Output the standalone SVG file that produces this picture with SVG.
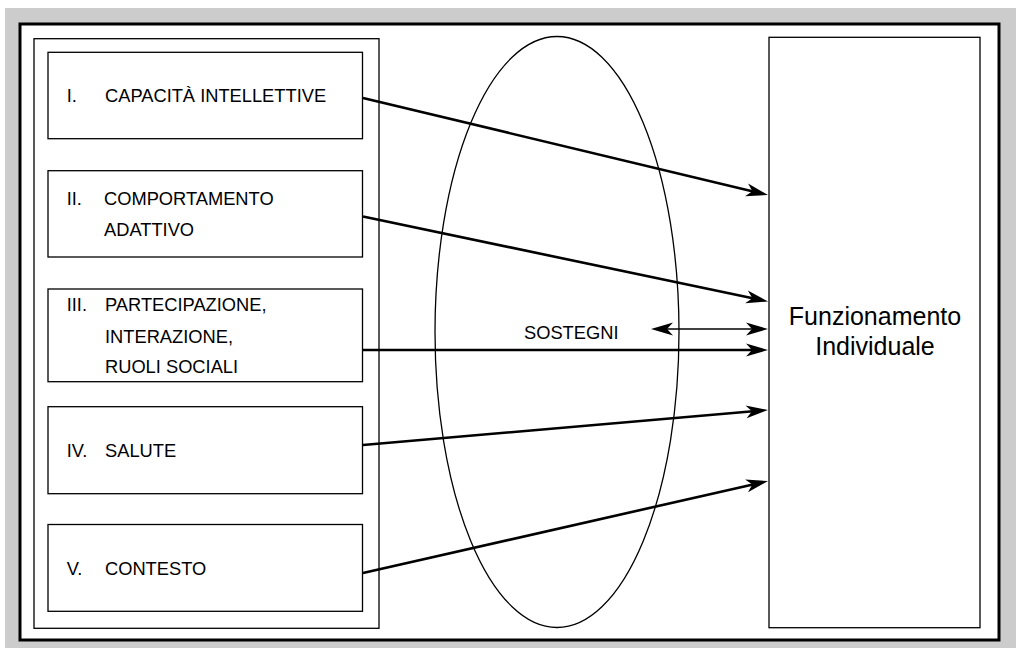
<svg xmlns="http://www.w3.org/2000/svg" width="1016" height="648" viewBox="0 0 1016 648">
<style>
.box{fill:#fff;stroke:#000;stroke-width:1.3}
.lbl{font-family:"Liberation Sans",Arial,sans-serif;font-size:18.3px;fill:#000}
.big{font-family:"Liberation Sans",Arial,sans-serif;font-size:25px;fill:#000;text-anchor:middle}
.conn{fill:none;stroke:#000;stroke-width:2.6}
.thin{fill:none;stroke:#000;stroke-width:1.5}
</style>
<defs>
<marker id="ah" markerUnits="userSpaceOnUse" orient="auto-start-reverse" refX="0" refY="0" markerWidth="30" markerHeight="20" overflow="visible">
<path d="M12,0 L-10,-6.5 L-4,0 L-10,6.5 Z" fill="#000"/>
</marker>
</defs>
<rect x="5" y="8" width="1011" height="640" fill="#cccccc"/>
<rect x="20" y="24" width="979" height="616" fill="#fff" stroke="#000" stroke-width="3"/>
<g id="panel"><rect class="box" x="34" y="38.7" width="345" height="589.6"/></g>
<g id="ellipse"><ellipse cx="557" cy="332" rx="122" ry="295.5" fill="none" stroke="#000" stroke-width="1.3"/></g>
<g id="node1"><rect class="box" x="48" y="52.3" width="314.5" height="86.4"/>
<text class="lbl" x="66.7" y="101.7">I.</text><text class="lbl" x="105" y="101.7">CAPACITÀ INTELLETTIVE</text></g>
<g id="node2"><rect class="box" x="48" y="170.7" width="314.5" height="86.3"/>
<text class="lbl" x="66.7" y="205.3">II.</text><text class="lbl" x="104" y="205.3">COMPORTAMENTO</text><text class="lbl" x="104" y="236">ADATTIVO</text></g>
<g id="node3"><rect class="box" x="48" y="289" width="314.5" height="92.7"/>
<text class="lbl" x="66.7" y="310.7">III.</text><text class="lbl" x="105" y="310.7">PARTECIPAZIONE,</text><text class="lbl" x="105" y="342.5">INTERAZIONE,</text><text class="lbl" x="105" y="373">RUOLI SOCIALI</text></g>
<g id="node4"><rect class="box" x="48" y="406.7" width="314.5" height="87"/>
<text class="lbl" x="66.7" y="457">IV.</text><text class="lbl" x="105" y="457">SALUTE</text></g>
<g id="node5"><rect class="box" x="48" y="524.5" width="314.5" height="86.8"/>
<text class="lbl" x="66.7" y="575">V.</text><text class="lbl" x="105" y="575">CONTESTO</text></g>
<g id="target"><rect class="box" x="769" y="37.3" width="211" height="590.4" stroke-width="1.6"/>
<text class="big" x="875" y="325">Funzionamento</text><text class="big" x="875" y="355">Individuale</text></g>
<g id="sostegni"><text class="lbl" x="524" y="338.5">SOSTEGNI</text></g>
<g id="connectors">
<path class="conn" d="M363,98 L756.3,192.2" marker-end="url(#ah)"/>
<path class="conn" d="M363,216.5 L756.3,299" marker-end="url(#ah)"/>
<path class="conn" d="M363,350 L756,350" marker-end="url(#ah)"/>
<path class="conn" d="M363,445 L756,411" marker-end="url(#ah)"/>
<path class="conn" d="M363,573 L756.3,483.7" marker-end="url(#ah)"/>
<path class="thin" d="M663,329 L756,329" marker-start="url(#ah)" marker-end="url(#ah)"/>
</g>
</svg>
